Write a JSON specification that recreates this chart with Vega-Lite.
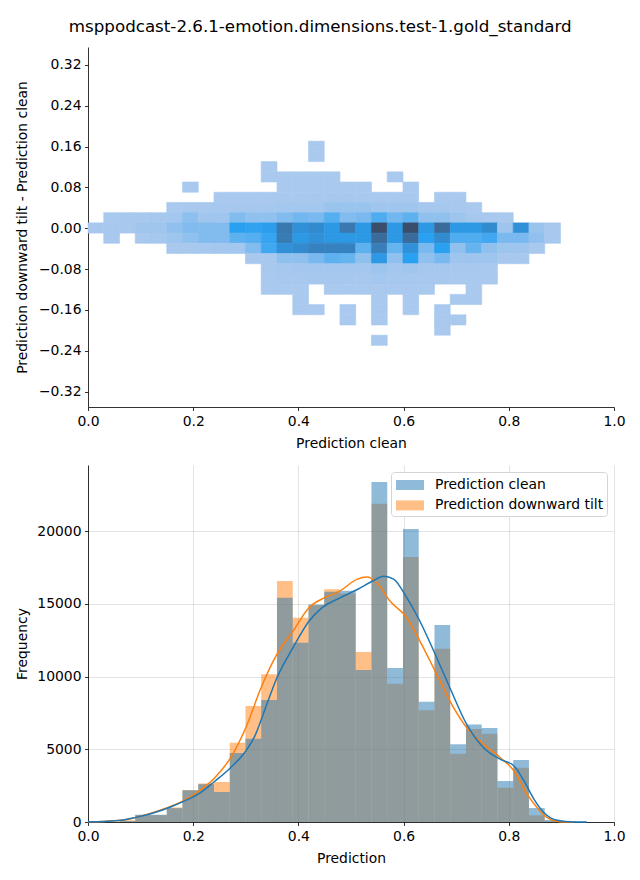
{
  "$schema": "https://vega.github.io/schema/vega-lite/v6.json",
  "background": "white",
  "padding": {"left": 15, "top": 19, "right": 10, "bottom": 5},
  "title": {"text": "msppodcast-2.6.1-emotion.dimensions.test-1.gold_standard", "fontSize": 16.7, "font": "DejaVu Sans", "fontWeight": "normal", "color": "black", "anchor": "middle", "offset": 11},
  "config": {
    "font": "DejaVu Sans",
    "view": {"stroke": null},
    "axis": {"labelFont": "DejaVu Sans", "labelFontSize": 13.9, "titleFont": "DejaVu Sans", "titleFontSize": 13.9, "titleFontWeight": "normal", "labelColor": "black", "titleColor": "black", "domainColor": "black", "tickColor": "black", "tickSize": 3.5, "tickWidth": 0.8, "domainWidth": 0.8, "labelPadding": 3.5, "gridColor": "#b0b0b0", "gridOpacity": 0.45, "gridWidth": 0.8, "zindex": 1, "labelFlush": false, "labelOverlap": false},
    "axisX": {"titlePadding": 9}
  },
  "datasets": {
    "cells": [
      {"x0":0.4192,"x1":0.4491,"y0":0.1506,"y1":0.1706,"n":100},
      {"x0":0.4192,"x1":0.4491,"y0":0.1306,"y1":0.1506,"n":100},
      {"x0":0.3293,"x1":0.3593,"y0":0.1106,"y1":0.1306,"n":100},
      {"x0":0.3293,"x1":0.3593,"y0":0.0906,"y1":0.1106,"n":100},
      {"x0":0.3593,"x1":0.3892,"y0":0.0906,"y1":0.1106,"n":100},
      {"x0":0.3892,"x1":0.4192,"y0":0.0906,"y1":0.1106,"n":100},
      {"x0":0.4192,"x1":0.4491,"y0":0.0906,"y1":0.1106,"n":100},
      {"x0":0.4491,"x1":0.479,"y0":0.0906,"y1":0.1106,"n":100},
      {"x0":0.5689,"x1":0.5988,"y0":0.0906,"y1":0.1106,"n":100},
      {"x0":0.1796,"x1":0.2096,"y0":0.0706,"y1":0.0906,"n":100},
      {"x0":0.3593,"x1":0.3892,"y0":0.0706,"y1":0.0906,"n":100},
      {"x0":0.3892,"x1":0.4192,"y0":0.0706,"y1":0.0906,"n":100},
      {"x0":0.4192,"x1":0.4491,"y0":0.0706,"y1":0.0906,"n":100},
      {"x0":0.4491,"x1":0.479,"y0":0.0706,"y1":0.0906,"n":100},
      {"x0":0.479,"x1":0.509,"y0":0.0706,"y1":0.0906,"n":100},
      {"x0":0.509,"x1":0.5389,"y0":0.0706,"y1":0.0906,"n":100},
      {"x0":0.5988,"x1":0.6287,"y0":0.0706,"y1":0.0906,"n":100},
      {"x0":0.2395,"x1":0.2695,"y0":0.0506,"y1":0.0706,"n":120},
      {"x0":0.2695,"x1":0.2994,"y0":0.0506,"y1":0.0706,"n":120},
      {"x0":0.2994,"x1":0.3293,"y0":0.0506,"y1":0.0706,"n":120},
      {"x0":0.3293,"x1":0.3593,"y0":0.0506,"y1":0.0706,"n":120},
      {"x0":0.3593,"x1":0.3892,"y0":0.0506,"y1":0.0706,"n":120},
      {"x0":0.3892,"x1":0.4192,"y0":0.0506,"y1":0.0706,"n":120},
      {"x0":0.4192,"x1":0.4491,"y0":0.0506,"y1":0.0706,"n":150},
      {"x0":0.4491,"x1":0.479,"y0":0.0506,"y1":0.0706,"n":150},
      {"x0":0.479,"x1":0.509,"y0":0.0506,"y1":0.0706,"n":150},
      {"x0":0.509,"x1":0.5389,"y0":0.0506,"y1":0.0706,"n":120},
      {"x0":0.5389,"x1":0.5689,"y0":0.0506,"y1":0.0706,"n":120},
      {"x0":0.5689,"x1":0.5988,"y0":0.0506,"y1":0.0706,"n":120},
      {"x0":0.5988,"x1":0.6287,"y0":0.0506,"y1":0.0706,"n":120},
      {"x0":0.6587,"x1":0.6886,"y0":0.0506,"y1":0.0706,"n":120},
      {"x0":0.6886,"x1":0.7186,"y0":0.0506,"y1":0.0706,"n":120},
      {"x0":0.1497,"x1":0.1796,"y0":0.0306,"y1":0.0506,"n":100},
      {"x0":0.1796,"x1":0.2096,"y0":0.0306,"y1":0.0506,"n":150},
      {"x0":0.2096,"x1":0.2395,"y0":0.0306,"y1":0.0506,"n":150},
      {"x0":0.2395,"x1":0.2695,"y0":0.0306,"y1":0.0506,"n":200},
      {"x0":0.2695,"x1":0.2994,"y0":0.0306,"y1":0.0506,"n":200},
      {"x0":0.2994,"x1":0.3293,"y0":0.0306,"y1":0.0506,"n":200},
      {"x0":0.3293,"x1":0.3593,"y0":0.0306,"y1":0.0506,"n":200},
      {"x0":0.3593,"x1":0.3892,"y0":0.0306,"y1":0.0506,"n":300},
      {"x0":0.3892,"x1":0.4192,"y0":0.0306,"y1":0.0506,"n":300},
      {"x0":0.4192,"x1":0.4491,"y0":0.0306,"y1":0.0506,"n":300},
      {"x0":0.4491,"x1":0.479,"y0":0.0306,"y1":0.0506,"n":600},
      {"x0":0.479,"x1":0.509,"y0":0.0306,"y1":0.0506,"n":600},
      {"x0":0.509,"x1":0.5389,"y0":0.0306,"y1":0.0506,"n":600},
      {"x0":0.5389,"x1":0.5689,"y0":0.0306,"y1":0.0506,"n":400},
      {"x0":0.5689,"x1":0.5988,"y0":0.0306,"y1":0.0506,"n":400},
      {"x0":0.5988,"x1":0.6287,"y0":0.0306,"y1":0.0506,"n":400},
      {"x0":0.6287,"x1":0.6587,"y0":0.0306,"y1":0.0506,"n":200},
      {"x0":0.6587,"x1":0.6886,"y0":0.0306,"y1":0.0506,"n":200},
      {"x0":0.6886,"x1":0.7186,"y0":0.0306,"y1":0.0506,"n":150},
      {"x0":0.7186,"x1":0.7485,"y0":0.0306,"y1":0.0506,"n":120},
      {"x0":0.0299,"x1":0.0599,"y0":0.0106,"y1":0.0306,"n":120},
      {"x0":0.0599,"x1":0.0898,"y0":0.0106,"y1":0.0306,"n":150},
      {"x0":0.0898,"x1":0.1198,"y0":0.0106,"y1":0.0306,"n":150},
      {"x0":0.1198,"x1":0.1497,"y0":0.0106,"y1":0.0306,"n":200},
      {"x0":0.1497,"x1":0.1796,"y0":0.0106,"y1":0.0306,"n":300},
      {"x0":0.1796,"x1":0.2096,"y0":0.0106,"y1":0.0306,"n":1000},
      {"x0":0.2096,"x1":0.2395,"y0":0.0106,"y1":0.0306,"n":400},
      {"x0":0.2395,"x1":0.2695,"y0":0.0106,"y1":0.0306,"n":400},
      {"x0":0.2695,"x1":0.2994,"y0":0.0106,"y1":0.0306,"n":1300},
      {"x0":0.2994,"x1":0.3293,"y0":0.0106,"y1":0.0306,"n":900},
      {"x0":0.3293,"x1":0.3593,"y0":0.0106,"y1":0.0306,"n":900},
      {"x0":0.3593,"x1":0.3892,"y0":0.0106,"y1":0.0306,"n":1300},
      {"x0":0.3892,"x1":0.4192,"y0":0.0106,"y1":0.0306,"n":1800},
      {"x0":0.4192,"x1":0.4491,"y0":0.0106,"y1":0.0306,"n":1600},
      {"x0":0.4491,"x1":0.479,"y0":0.0106,"y1":0.0306,"n":2700},
      {"x0":0.479,"x1":0.509,"y0":0.0106,"y1":0.0306,"n":1300},
      {"x0":0.509,"x1":0.5389,"y0":0.0106,"y1":0.0306,"n":1600},
      {"x0":0.5389,"x1":0.5689,"y0":0.0106,"y1":0.0306,"n":2900},
      {"x0":0.5689,"x1":0.5988,"y0":0.0106,"y1":0.0306,"n":1800},
      {"x0":0.5988,"x1":0.6287,"y0":0.0106,"y1":0.0306,"n":2400},
      {"x0":0.6287,"x1":0.6587,"y0":0.0106,"y1":0.0306,"n":900},
      {"x0":0.6587,"x1":0.6886,"y0":0.0106,"y1":0.0306,"n":900},
      {"x0":0.6886,"x1":0.7186,"y0":0.0106,"y1":0.0306,"n":500},
      {"x0":0.7186,"x1":0.7485,"y0":0.0106,"y1":0.0306,"n":200},
      {"x0":0.7485,"x1":0.7784,"y0":0.0106,"y1":0.0306,"n":150},
      {"x0":0.7784,"x1":0.8084,"y0":0.0106,"y1":0.0306,"n":100},
      {"x0":0,"x1":0.0299,"y0":-0.0094,"y1":0.0106,"n":150},
      {"x0":0.0299,"x1":0.0599,"y0":-0.0094,"y1":0.0106,"n":150},
      {"x0":0.0599,"x1":0.0898,"y0":-0.0094,"y1":0.0106,"n":150},
      {"x0":0.0898,"x1":0.1198,"y0":-0.0094,"y1":0.0106,"n":400},
      {"x0":0.1198,"x1":0.1497,"y0":-0.0094,"y1":0.0106,"n":400},
      {"x0":0.1497,"x1":0.1796,"y0":-0.0094,"y1":0.0106,"n":900},
      {"x0":0.1796,"x1":0.2096,"y0":-0.0094,"y1":0.0106,"n":1300},
      {"x0":0.2096,"x1":0.2395,"y0":-0.0094,"y1":0.0106,"n":1300},
      {"x0":0.2395,"x1":0.2695,"y0":-0.0094,"y1":0.0106,"n":1300},
      {"x0":0.2695,"x1":0.2994,"y0":-0.0094,"y1":0.0106,"n":4000},
      {"x0":0.2994,"x1":0.3293,"y0":-0.0094,"y1":0.0106,"n":3800},
      {"x0":0.3293,"x1":0.3593,"y0":-0.0094,"y1":0.0106,"n":4200},
      {"x0":0.3593,"x1":0.3892,"y0":-0.0094,"y1":0.0106,"n":6700},
      {"x0":0.3892,"x1":0.4192,"y0":-0.0094,"y1":0.0106,"n":5000},
      {"x0":0.4192,"x1":0.4491,"y0":-0.0094,"y1":0.0106,"n":5400},
      {"x0":0.4491,"x1":0.479,"y0":-0.0094,"y1":0.0106,"n":4500},
      {"x0":0.479,"x1":0.509,"y0":-0.0094,"y1":0.0106,"n":6700},
      {"x0":0.509,"x1":0.5389,"y0":-0.0094,"y1":0.0106,"n":4500},
      {"x0":0.5389,"x1":0.5689,"y0":-0.0094,"y1":0.0106,"n":9000},
      {"x0":0.5689,"x1":0.5988,"y0":-0.0094,"y1":0.0106,"n":4500},
      {"x0":0.5988,"x1":0.6287,"y0":-0.0094,"y1":0.0106,"n":9000},
      {"x0":0.6287,"x1":0.6587,"y0":-0.0094,"y1":0.0106,"n":4500},
      {"x0":0.6587,"x1":0.6886,"y0":-0.0094,"y1":0.0106,"n":7400},
      {"x0":0.6886,"x1":0.7186,"y0":-0.0094,"y1":0.0106,"n":4500},
      {"x0":0.7186,"x1":0.7485,"y0":-0.0094,"y1":0.0106,"n":4500},
      {"x0":0.7485,"x1":0.7784,"y0":-0.0094,"y1":0.0106,"n":5400},
      {"x0":0.7784,"x1":0.8084,"y0":-0.0094,"y1":0.0106,"n":500},
      {"x0":0.8084,"x1":0.8383,"y0":-0.0094,"y1":0.0106,"n":5000},
      {"x0":0.8383,"x1":0.8683,"y0":-0.0094,"y1":0.0106,"n":600},
      {"x0":0.8683,"x1":0.8982,"y0":-0.0094,"y1":0.0106,"n":150},
      {"x0":0.0299,"x1":0.0599,"y0":-0.0294,"y1":-0.0094,"n":150},
      {"x0":0.0898,"x1":0.1198,"y0":-0.0294,"y1":-0.0094,"n":150},
      {"x0":0.1198,"x1":0.1497,"y0":-0.0294,"y1":-0.0094,"n":200},
      {"x0":0.1497,"x1":0.1796,"y0":-0.0294,"y1":-0.0094,"n":500},
      {"x0":0.1796,"x1":0.2096,"y0":-0.0294,"y1":-0.0094,"n":900},
      {"x0":0.2096,"x1":0.2395,"y0":-0.0294,"y1":-0.0094,"n":1300},
      {"x0":0.2395,"x1":0.2695,"y0":-0.0294,"y1":-0.0094,"n":1300},
      {"x0":0.2695,"x1":0.2994,"y0":-0.0294,"y1":-0.0094,"n":2400},
      {"x0":0.2994,"x1":0.3293,"y0":-0.0294,"y1":-0.0094,"n":2700},
      {"x0":0.3293,"x1":0.3593,"y0":-0.0294,"y1":-0.0094,"n":3600},
      {"x0":0.3593,"x1":0.3892,"y0":-0.0294,"y1":-0.0094,"n":6500},
      {"x0":0.3892,"x1":0.4192,"y0":-0.0294,"y1":-0.0094,"n":4500},
      {"x0":0.4192,"x1":0.4491,"y0":-0.0294,"y1":-0.0094,"n":5000},
      {"x0":0.4491,"x1":0.479,"y0":-0.0294,"y1":-0.0094,"n":4500},
      {"x0":0.479,"x1":0.509,"y0":-0.0294,"y1":-0.0094,"n":4500},
      {"x0":0.509,"x1":0.5389,"y0":-0.0294,"y1":-0.0094,"n":4500},
      {"x0":0.5389,"x1":0.5689,"y0":-0.0294,"y1":-0.0094,"n":7400},
      {"x0":0.5689,"x1":0.5988,"y0":-0.0294,"y1":-0.0094,"n":4500},
      {"x0":0.5988,"x1":0.6287,"y0":-0.0294,"y1":-0.0094,"n":7400},
      {"x0":0.6287,"x1":0.6587,"y0":-0.0294,"y1":-0.0094,"n":4000},
      {"x0":0.6587,"x1":0.6886,"y0":-0.0294,"y1":-0.0094,"n":5400},
      {"x0":0.6886,"x1":0.7186,"y0":-0.0294,"y1":-0.0094,"n":2900},
      {"x0":0.7186,"x1":0.7485,"y0":-0.0294,"y1":-0.0094,"n":2900},
      {"x0":0.7485,"x1":0.7784,"y0":-0.0294,"y1":-0.0094,"n":3300},
      {"x0":0.7784,"x1":0.8084,"y0":-0.0294,"y1":-0.0094,"n":1600},
      {"x0":0.8084,"x1":0.8383,"y0":-0.0294,"y1":-0.0094,"n":1600},
      {"x0":0.8383,"x1":0.8683,"y0":-0.0294,"y1":-0.0094,"n":900},
      {"x0":0.8683,"x1":0.8982,"y0":-0.0294,"y1":-0.0094,"n":150},
      {"x0":0.1497,"x1":0.1796,"y0":-0.0494,"y1":-0.0294,"n":150},
      {"x0":0.1796,"x1":0.2096,"y0":-0.0494,"y1":-0.0294,"n":150},
      {"x0":0.2096,"x1":0.2395,"y0":-0.0494,"y1":-0.0294,"n":200},
      {"x0":0.2395,"x1":0.2695,"y0":-0.0494,"y1":-0.0294,"n":300},
      {"x0":0.2695,"x1":0.2994,"y0":-0.0494,"y1":-0.0294,"n":300},
      {"x0":0.2994,"x1":0.3293,"y0":-0.0494,"y1":-0.0294,"n":1300},
      {"x0":0.3293,"x1":0.3593,"y0":-0.0494,"y1":-0.0294,"n":3300},
      {"x0":0.3593,"x1":0.3892,"y0":-0.0494,"y1":-0.0294,"n":5000},
      {"x0":0.3892,"x1":0.4192,"y0":-0.0494,"y1":-0.0294,"n":5400},
      {"x0":0.4192,"x1":0.4491,"y0":-0.0494,"y1":-0.0294,"n":6000},
      {"x0":0.4491,"x1":0.479,"y0":-0.0494,"y1":-0.0294,"n":6000},
      {"x0":0.479,"x1":0.509,"y0":-0.0494,"y1":-0.0294,"n":6000},
      {"x0":0.509,"x1":0.5389,"y0":-0.0494,"y1":-0.0294,"n":2400},
      {"x0":0.5389,"x1":0.5689,"y0":-0.0494,"y1":-0.0294,"n":6300},
      {"x0":0.5689,"x1":0.5988,"y0":-0.0494,"y1":-0.0294,"n":2200},
      {"x0":0.5988,"x1":0.6287,"y0":-0.0494,"y1":-0.0294,"n":5000},
      {"x0":0.6287,"x1":0.6587,"y0":-0.0494,"y1":-0.0294,"n":1600},
      {"x0":0.6587,"x1":0.6886,"y0":-0.0494,"y1":-0.0294,"n":4000},
      {"x0":0.6886,"x1":0.7186,"y0":-0.0494,"y1":-0.0294,"n":900},
      {"x0":0.7186,"x1":0.7485,"y0":-0.0494,"y1":-0.0294,"n":2200},
      {"x0":0.7485,"x1":0.7784,"y0":-0.0494,"y1":-0.0294,"n":900},
      {"x0":0.7784,"x1":0.8084,"y0":-0.0494,"y1":-0.0294,"n":500},
      {"x0":0.8084,"x1":0.8383,"y0":-0.0494,"y1":-0.0294,"n":500},
      {"x0":0.8383,"x1":0.8683,"y0":-0.0494,"y1":-0.0294,"n":150},
      {"x0":0.2994,"x1":0.3293,"y0":-0.0694,"y1":-0.0494,"n":150},
      {"x0":0.3293,"x1":0.3593,"y0":-0.0694,"y1":-0.0494,"n":150},
      {"x0":0.3593,"x1":0.3892,"y0":-0.0694,"y1":-0.0494,"n":900},
      {"x0":0.3892,"x1":0.4192,"y0":-0.0694,"y1":-0.0494,"n":900},
      {"x0":0.4192,"x1":0.4491,"y0":-0.0694,"y1":-0.0494,"n":1600},
      {"x0":0.4491,"x1":0.479,"y0":-0.0694,"y1":-0.0494,"n":2400},
      {"x0":0.479,"x1":0.509,"y0":-0.0694,"y1":-0.0494,"n":2200},
      {"x0":0.509,"x1":0.5389,"y0":-0.0694,"y1":-0.0494,"n":900},
      {"x0":0.5389,"x1":0.5689,"y0":-0.0694,"y1":-0.0494,"n":4500},
      {"x0":0.5689,"x1":0.5988,"y0":-0.0694,"y1":-0.0494,"n":900},
      {"x0":0.5988,"x1":0.6287,"y0":-0.0694,"y1":-0.0494,"n":4000},
      {"x0":0.6287,"x1":0.6587,"y0":-0.0694,"y1":-0.0494,"n":900},
      {"x0":0.6587,"x1":0.6886,"y0":-0.0694,"y1":-0.0494,"n":1600},
      {"x0":0.6886,"x1":0.7186,"y0":-0.0694,"y1":-0.0494,"n":500},
      {"x0":0.7186,"x1":0.7485,"y0":-0.0694,"y1":-0.0494,"n":500},
      {"x0":0.7485,"x1":0.7784,"y0":-0.0694,"y1":-0.0494,"n":500},
      {"x0":0.7784,"x1":0.8084,"y0":-0.0694,"y1":-0.0494,"n":150},
      {"x0":0.8084,"x1":0.8383,"y0":-0.0694,"y1":-0.0494,"n":150},
      {"x0":0.3293,"x1":0.3593,"y0":-0.0894,"y1":-0.0694,"n":150},
      {"x0":0.3593,"x1":0.3892,"y0":-0.0894,"y1":-0.0694,"n":200},
      {"x0":0.3892,"x1":0.4192,"y0":-0.0894,"y1":-0.0694,"n":300},
      {"x0":0.4192,"x1":0.4491,"y0":-0.0894,"y1":-0.0694,"n":300},
      {"x0":0.4491,"x1":0.479,"y0":-0.0894,"y1":-0.0694,"n":300},
      {"x0":0.479,"x1":0.509,"y0":-0.0894,"y1":-0.0694,"n":300},
      {"x0":0.509,"x1":0.5389,"y0":-0.0894,"y1":-0.0694,"n":300},
      {"x0":0.5389,"x1":0.5689,"y0":-0.0894,"y1":-0.0694,"n":500},
      {"x0":0.5689,"x1":0.5988,"y0":-0.0894,"y1":-0.0694,"n":300},
      {"x0":0.5988,"x1":0.6287,"y0":-0.0894,"y1":-0.0694,"n":400},
      {"x0":0.6287,"x1":0.6587,"y0":-0.0894,"y1":-0.0694,"n":200},
      {"x0":0.6587,"x1":0.6886,"y0":-0.0894,"y1":-0.0694,"n":200},
      {"x0":0.6886,"x1":0.7186,"y0":-0.0894,"y1":-0.0694,"n":150},
      {"x0":0.7186,"x1":0.7485,"y0":-0.0894,"y1":-0.0694,"n":150},
      {"x0":0.7485,"x1":0.7784,"y0":-0.0894,"y1":-0.0694,"n":100},
      {"x0":0.3293,"x1":0.3593,"y0":-0.1094,"y1":-0.0894,"n":100},
      {"x0":0.3593,"x1":0.3892,"y0":-0.1094,"y1":-0.0894,"n":150},
      {"x0":0.3892,"x1":0.4192,"y0":-0.1094,"y1":-0.0894,"n":150},
      {"x0":0.4192,"x1":0.4491,"y0":-0.1094,"y1":-0.0894,"n":200},
      {"x0":0.4491,"x1":0.479,"y0":-0.1094,"y1":-0.0894,"n":200},
      {"x0":0.479,"x1":0.509,"y0":-0.1094,"y1":-0.0894,"n":200},
      {"x0":0.509,"x1":0.5389,"y0":-0.1094,"y1":-0.0894,"n":150},
      {"x0":0.5389,"x1":0.5689,"y0":-0.1094,"y1":-0.0894,"n":300},
      {"x0":0.5689,"x1":0.5988,"y0":-0.1094,"y1":-0.0894,"n":200},
      {"x0":0.5988,"x1":0.6287,"y0":-0.1094,"y1":-0.0894,"n":200},
      {"x0":0.6287,"x1":0.6587,"y0":-0.1094,"y1":-0.0894,"n":150},
      {"x0":0.6587,"x1":0.6886,"y0":-0.1094,"y1":-0.0894,"n":150},
      {"x0":0.6886,"x1":0.7186,"y0":-0.1094,"y1":-0.0894,"n":100},
      {"x0":0.7186,"x1":0.7485,"y0":-0.1094,"y1":-0.0894,"n":100},
      {"x0":0.7485,"x1":0.7784,"y0":-0.1094,"y1":-0.0894,"n":100},
      {"x0":0.3293,"x1":0.3593,"y0":-0.1294,"y1":-0.1094,"n":100},
      {"x0":0.3593,"x1":0.3892,"y0":-0.1294,"y1":-0.1094,"n":100},
      {"x0":0.3892,"x1":0.4192,"y0":-0.1294,"y1":-0.1094,"n":100},
      {"x0":0.4491,"x1":0.479,"y0":-0.1294,"y1":-0.1094,"n":100},
      {"x0":0.479,"x1":0.509,"y0":-0.1294,"y1":-0.1094,"n":100},
      {"x0":0.509,"x1":0.5389,"y0":-0.1294,"y1":-0.1094,"n":100},
      {"x0":0.5389,"x1":0.5689,"y0":-0.1294,"y1":-0.1094,"n":100},
      {"x0":0.5689,"x1":0.5988,"y0":-0.1294,"y1":-0.1094,"n":100},
      {"x0":0.5988,"x1":0.6287,"y0":-0.1294,"y1":-0.1094,"n":100},
      {"x0":0.6287,"x1":0.6587,"y0":-0.1294,"y1":-0.1094,"n":100},
      {"x0":0.7186,"x1":0.7485,"y0":-0.1294,"y1":-0.1094,"n":100},
      {"x0":0.3892,"x1":0.4192,"y0":-0.1494,"y1":-0.1294,"n":100},
      {"x0":0.5389,"x1":0.5689,"y0":-0.1494,"y1":-0.1294,"n":100},
      {"x0":0.5988,"x1":0.6287,"y0":-0.1494,"y1":-0.1294,"n":100},
      {"x0":0.6886,"x1":0.7186,"y0":-0.1494,"y1":-0.1294,"n":100},
      {"x0":0.7186,"x1":0.7485,"y0":-0.1494,"y1":-0.1294,"n":100},
      {"x0":0.3892,"x1":0.4192,"y0":-0.1694,"y1":-0.1494,"n":100},
      {"x0":0.4192,"x1":0.4491,"y0":-0.1694,"y1":-0.1494,"n":100},
      {"x0":0.479,"x1":0.509,"y0":-0.1694,"y1":-0.1494,"n":100},
      {"x0":0.5389,"x1":0.5689,"y0":-0.1694,"y1":-0.1494,"n":100},
      {"x0":0.5988,"x1":0.6287,"y0":-0.1694,"y1":-0.1494,"n":100},
      {"x0":0.6587,"x1":0.6886,"y0":-0.1694,"y1":-0.1494,"n":100},
      {"x0":0.479,"x1":0.509,"y0":-0.1894,"y1":-0.1694,"n":100},
      {"x0":0.5389,"x1":0.5689,"y0":-0.1894,"y1":-0.1694,"n":100},
      {"x0":0.6587,"x1":0.6886,"y0":-0.1894,"y1":-0.1694,"n":100},
      {"x0":0.6886,"x1":0.7186,"y0":-0.1894,"y1":-0.1694,"n":100},
      {"x0":0.6587,"x1":0.6886,"y0":-0.2094,"y1":-0.1894,"n":100},
      {"x0":0.5389,"x1":0.5689,"y0":-0.2294,"y1":-0.2094,"n":100}
    ],
    "hist": [
      {"series":"Prediction downward tilt","x0":0.0599,"x1":0.0898,"count":120},
      {"series":"Prediction downward tilt","x0":0.0898,"x1":0.1198,"count":470},
      {"series":"Prediction downward tilt","x0":0.1198,"x1":0.1497,"count":470},
      {"series":"Prediction downward tilt","x0":0.1497,"x1":0.1796,"count":1000},
      {"series":"Prediction downward tilt","x0":0.1796,"x1":0.2096,"count":2200},
      {"series":"Prediction downward tilt","x0":0.2096,"x1":0.2395,"count":2650},
      {"series":"Prediction downward tilt","x0":0.2395,"x1":0.2695,"count":2750},
      {"series":"Prediction downward tilt","x0":0.2695,"x1":0.2994,"count":5450},
      {"series":"Prediction downward tilt","x0":0.2994,"x1":0.3293,"count":7970},
      {"series":"Prediction downward tilt","x0":0.3293,"x1":0.3593,"count":10150},
      {"series":"Prediction downward tilt","x0":0.3593,"x1":0.3892,"count":16560},
      {"series":"Prediction downward tilt","x0":0.3892,"x1":0.4192,"count":14040},
      {"series":"Prediction downward tilt","x0":0.4192,"x1":0.4491,"count":14900},
      {"series":"Prediction downward tilt","x0":0.4491,"x1":0.479,"count":16000},
      {"series":"Prediction downward tilt","x0":0.479,"x1":0.509,"count":15700},
      {"series":"Prediction downward tilt","x0":0.509,"x1":0.5389,"count":11680},
      {"series":"Prediction downward tilt","x0":0.5389,"x1":0.5689,"count":21880},
      {"series":"Prediction downward tilt","x0":0.5689,"x1":0.5988,"count":9510},
      {"series":"Prediction downward tilt","x0":0.5988,"x1":0.6287,"count":18210},
      {"series":"Prediction downward tilt","x0":0.6287,"x1":0.6587,"count":7680},
      {"series":"Prediction downward tilt","x0":0.6587,"x1":0.6886,"count":11910},
      {"series":"Prediction downward tilt","x0":0.6886,"x1":0.7186,"count":4700},
      {"series":"Prediction downward tilt","x0":0.7186,"x1":0.7485,"count":6400},
      {"series":"Prediction downward tilt","x0":0.7485,"x1":0.7784,"count":6070},
      {"series":"Prediction downward tilt","x0":0.7784,"x1":0.8084,"count":2360},
      {"series":"Prediction downward tilt","x0":0.8084,"x1":0.8383,"count":3730},
      {"series":"Prediction downward tilt","x0":0.8383,"x1":0.8683,"count":460},
      {"series":"Prediction downward tilt","x0":0.8683,"x1":0.8982,"count":60},
      {"series":"Prediction downward tilt","x0":0.8982,"x1":0.9281,"count":10},
      {"series":"Prediction clean","x0":0.0599,"x1":0.0898,"count":60},
      {"series":"Prediction clean","x0":0.0898,"x1":0.1198,"count":500},
      {"series":"Prediction clean","x0":0.1198,"x1":0.1497,"count":500},
      {"series":"Prediction clean","x0":0.1497,"x1":0.1796,"count":950},
      {"series":"Prediction clean","x0":0.1796,"x1":0.2096,"count":2180},
      {"series":"Prediction clean","x0":0.2096,"x1":0.2395,"count":2600},
      {"series":"Prediction clean","x0":0.2395,"x1":0.2695,"count":2060},
      {"series":"Prediction clean","x0":0.2695,"x1":0.2994,"count":4740},
      {"series":"Prediction clean","x0":0.2994,"x1":0.3293,"count":5730},
      {"series":"Prediction clean","x0":0.3293,"x1":0.3593,"count":8385},
      {"series":"Prediction clean","x0":0.3593,"x1":0.3892,"count":15420},
      {"series":"Prediction clean","x0":0.3892,"x1":0.4192,"count":12325},
      {"series":"Prediction clean","x0":0.4192,"x1":0.4491,"count":14950},
      {"series":"Prediction clean","x0":0.4491,"x1":0.479,"count":15830},
      {"series":"Prediction clean","x0":0.479,"x1":0.509,"count":15900},
      {"series":"Prediction clean","x0":0.509,"x1":0.5389,"count":10450},
      {"series":"Prediction clean","x0":0.5389,"x1":0.5689,"count":23370},
      {"series":"Prediction clean","x0":0.5689,"x1":0.5988,"count":10580},
      {"series":"Prediction clean","x0":0.5988,"x1":0.6287,"count":20140},
      {"series":"Prediction clean","x0":0.6287,"x1":0.6587,"count":8270},
      {"series":"Prediction clean","x0":0.6587,"x1":0.6886,"count":13540},
      {"series":"Prediction clean","x0":0.6886,"x1":0.7186,"count":5340},
      {"series":"Prediction clean","x0":0.7186,"x1":0.7485,"count":6700},
      {"series":"Prediction clean","x0":0.7485,"x1":0.7784,"count":6460},
      {"series":"Prediction clean","x0":0.7784,"x1":0.8084,"count":2820},
      {"series":"Prediction clean","x0":0.8084,"x1":0.8383,"count":4260},
      {"series":"Prediction clean","x0":0.8383,"x1":0.8683,"count":960},
      {"series":"Prediction clean","x0":0.8683,"x1":0.8982,"count":140},
      {"series":"Prediction clean","x0":0.8982,"x1":0.9281,"count":40},
      {"series":"Prediction clean","x0":0.9281,"x1":0.9481,"count":20}
    ],
    "kde": [
      {"series":"Prediction clean","x":0,"count":10},
      {"series":"Prediction clean","x":0.03,"count":40},
      {"series":"Prediction clean","x":0.063,"count":117},
      {"series":"Prediction clean","x":0.089,"count":300},
      {"series":"Prediction clean","x":0.127,"count":650},
      {"series":"Prediction clean","x":0.158,"count":1050},
      {"series":"Prediction clean","x":0.19,"count":1550},
      {"series":"Prediction clean","x":0.211,"count":1950},
      {"series":"Prediction clean","x":0.241,"count":2800},
      {"series":"Prediction clean","x":0.27,"count":3700},
      {"series":"Prediction clean","x":0.3,"count":4880},
      {"series":"Prediction clean","x":0.317,"count":5900},
      {"series":"Prediction clean","x":0.336,"count":7700},
      {"series":"Prediction clean","x":0.359,"count":9900},
      {"series":"Prediction clean","x":0.39,"count":12000},
      {"series":"Prediction clean","x":0.42,"count":13800},
      {"series":"Prediction clean","x":0.444,"count":14700},
      {"series":"Prediction clean","x":0.48,"count":15420},
      {"series":"Prediction clean","x":0.513,"count":16000},
      {"series":"Prediction clean","x":0.543,"count":16600},
      {"series":"Prediction clean","x":0.562,"count":16900},
      {"series":"Prediction clean","x":0.581,"count":16700},
      {"series":"Prediction clean","x":0.606,"count":15420},
      {"series":"Prediction clean","x":0.631,"count":13800},
      {"series":"Prediction clean","x":0.663,"count":11290},
      {"series":"Prediction clean","x":0.688,"count":9230},
      {"series":"Prediction clean","x":0.72,"count":6710},
      {"series":"Prediction clean","x":0.752,"count":5110},
      {"series":"Prediction clean","x":0.784,"count":4310},
      {"series":"Prediction clean","x":0.81,"count":3850},
      {"series":"Prediction clean","x":0.829,"count":2820},
      {"series":"Prediction clean","x":0.848,"count":1560},
      {"series":"Prediction clean","x":0.867,"count":640},
      {"series":"Prediction clean","x":0.892,"count":117},
      {"series":"Prediction clean","x":0.924,"count":5},
      {"series":"Prediction clean","x":0.948,"count":0},
      {"series":"Prediction downward tilt","x":0,"count":10},
      {"series":"Prediction downward tilt","x":0.03,"count":40},
      {"series":"Prediction downward tilt","x":0.063,"count":117},
      {"series":"Prediction downward tilt","x":0.127,"count":690},
      {"series":"Prediction downward tilt","x":0.19,"count":1630},
      {"series":"Prediction downward tilt","x":0.211,"count":2130},
      {"series":"Prediction downward tilt","x":0.241,"count":3047},
      {"series":"Prediction downward tilt","x":0.27,"count":4353},
      {"series":"Prediction downward tilt","x":0.3,"count":6483},
      {"series":"Prediction downward tilt","x":0.329,"count":9230},
      {"series":"Prediction downward tilt","x":0.359,"count":11520},
      {"series":"Prediction downward tilt","x":0.39,"count":13125},
      {"series":"Prediction downward tilt","x":0.42,"count":14730},
      {"series":"Prediction downward tilt","x":0.45,"count":15420},
      {"series":"Prediction downward tilt","x":0.48,"count":15900},
      {"series":"Prediction downward tilt","x":0.511,"count":16680},
      {"series":"Prediction downward tilt","x":0.53,"count":16840},
      {"series":"Prediction downward tilt","x":0.549,"count":16450},
      {"series":"Prediction downward tilt","x":0.574,"count":15190},
      {"series":"Prediction downward tilt","x":0.606,"count":14040},
      {"series":"Prediction downward tilt","x":0.631,"count":12440},
      {"series":"Prediction downward tilt","x":0.663,"count":10150},
      {"series":"Prediction downward tilt","x":0.695,"count":7856},
      {"series":"Prediction downward tilt","x":0.72,"count":6480},
      {"series":"Prediction downward tilt","x":0.752,"count":5340},
      {"series":"Prediction downward tilt","x":0.784,"count":4420},
      {"series":"Prediction downward tilt","x":0.81,"count":3505},
      {"series":"Prediction downward tilt","x":0.835,"count":1900},
      {"series":"Prediction downward tilt","x":0.854,"count":985},
      {"series":"Prediction downward tilt","x":0.873,"count":300},
      {"series":"Prediction downward tilt","x":0.898,"count":20},
      {"series":"Prediction downward tilt","x":0.924,"count":0}
    ]
  },
  "spacing": 14,
  "vconcat": [
    {
      "width": 526,
      "height": 360,
      "layer": [
        {
          "mark": {"type": "rect", "color": "green", "opacity": 0.15},
          "encoding": {
            "x": {"datum": 0, "type": "quantitative"},
            "x2": {"datum": 1},
            "y": {"datum": -0.05, "type": "quantitative"},
            "y2": {"datum": 0.05}
          }
        },
        {
          "data": {"name": "cells"},
          "mark": {"type": "rect", "strokeWidth": 0.6},
          "encoding": {
            "x": {"field": "x0", "type": "quantitative", "title": "Prediction clean", "scale": {"domain": [0, 1], "nice": false}, "axis": {"values": [0, 0.2, 0.4, 0.6, 0.8, 1], "format": ".1f"}},
            "x2": {"field": "x1"},
            "y": {"field": "y0", "type": "quantitative", "title": "Prediction downward tilt - Prediction clean", "scale": {"domain": [-0.35, 0.355], "nice": false, "zero": false}, "axis": {"values": [-0.32, -0.24, -0.16, -0.08, 0, 0.08, 0.16, 0.24, 0.32], "format": ".2f", "titlePadding": 9}},
            "y2": {"field": "y1"},
            "color": {"field": "n", "type": "quantitative", "legend": null, "scale": {"domain": [0, 4000, 6700, 9000], "range": ["#adcaee", "#2aa0f0", "#3a78b0", "#3a4d6a"], "interpolate": "rgb"}},
            "stroke": {"field": "n", "type": "quantitative", "legend": null, "scale": {"domain": [0, 4000, 6700, 9000], "range": ["#adcaee", "#2aa0f0", "#3a78b0", "#3a4d6a"], "interpolate": "rgb"}}
          }
        },
        {
          "mark": {"type": "rule", "color": "green", "strokeDash": [5.5, 2.4], "strokeWidth": 1.5},
          "encoding": {"y": {"datum": 0, "type": "quantitative"}}
        }
      ]
    },
    {
      "width": 526,
      "height": 357,
      "layer": [
        {
          "data": {"name": "hist"},
          "mark": {"type": "rect", "opacity": 0.5},
          "encoding": {
            "x": {"field": "x0", "type": "quantitative", "title": "Prediction", "scale": {"domain": [0, 1], "nice": false}, "axis": {"values": [0, 0.2, 0.4, 0.6, 0.8, 1], "format": ".1f"}},
            "x2": {"field": "x1"},
            "y": {"field": "count", "type": "quantitative", "title": "Frequency", "scale": {"domain": [0, 24540], "nice": false}, "axis": {"values": [0, 5000, 10000, 15000, 20000], "format": "d", "titlePadding": 7}},
            "y2": {"datum": 0},
            "color": {"field": "series", "type": "nominal", "scale": {"domain": ["Prediction clean", "Prediction downward tilt"], "range": ["#1f77b4", "#ff7f0e"]},
              "legend": {"title": null, "orient": "top-right", "offset": 7, "fillColor": "white", "strokeColor": "#d5d5d5", "cornerRadius": 3, "padding": 3, "symbolType": "M-0.8,-0.5h2.8v1h-2.8z", "symbolSize": 400, "symbolOpacity": 0.5, "symbolStrokeWidth": 0, "labelFontSize": 13.9, "labelFont": "DejaVu Sans", "labelColor": "black", "labelOffset": 21, "labelLimit": 400, "rowPadding": 3.4}}
          }
        },
        {
          "data": {"name": "kde"},
          "transform": [{"filter": "datum.series === 'Prediction downward tilt'"}],
          "mark": {"type": "line", "color": "#ff7f0e", "strokeWidth": 1.5, "interpolate": "monotone"},
          "encoding": {
            "x": {"field": "x", "type": "quantitative", "title": "Prediction"},
            "y": {"field": "count", "type": "quantitative", "title": "Frequency"}
          }
        },
        {
          "data": {"name": "kde"},
          "transform": [{"filter": "datum.series === 'Prediction clean'"}],
          "mark": {"type": "line", "color": "#1f77b4", "strokeWidth": 1.5, "interpolate": "monotone"},
          "encoding": {
            "x": {"field": "x", "type": "quantitative", "title": "Prediction"},
            "y": {"field": "count", "type": "quantitative", "title": "Frequency"}
          }
        }
      ]
    }
  ]
}
